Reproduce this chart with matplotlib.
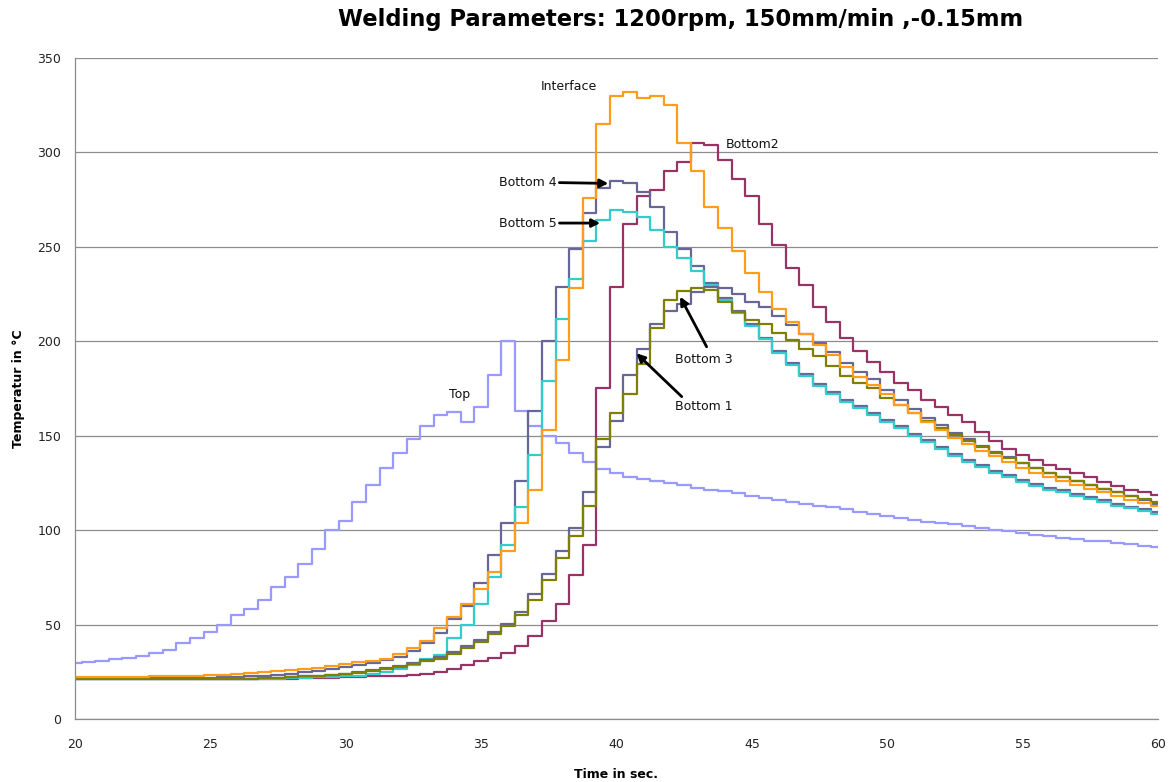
import numpy as np
import matplotlib
matplotlib.use("Agg")
import matplotlib.pyplot as plt

# thermocouple readings, sampled every 0.5 s from 20 s to 60 s
time_s = np.arange(20, 60.01, 0.5)

temp_top = [
    29.5, 30, 30.5, 31.5, 32.5, 33.5, 35, 36.5, 40, 43,
    46, 50, 55, 58, 63, 70, 75, 82, 90, 100,
    105, 115, 124, 133, 141, 148, 155, 161, 162.5, 157,
    165, 182, 200, 163, 155, 150, 146, 141, 136, 132.5,
    130, 128, 127, 126, 125, 124, 122.5, 121.5, 120.5, 119.5,
    118, 117, 116, 115, 114, 113, 112, 111, 109.5, 108.5,
    107.5, 106.5, 105.5, 104.5, 104, 103, 102, 101, 100, 99.5,
    98.5, 97.5, 97, 96, 95.5, 94.5, 94, 93, 92.5, 91.5,
    91,
]
temp_interface = [
    22, 22, 22, 22, 22, 22, 22.5, 22.5, 23, 23,
    23.5, 23.5, 24, 24.5, 25, 25.5, 26, 26.5, 27, 28,
    29, 30, 30.5, 32, 34.5, 37.5, 41.5, 48, 54, 61,
    69, 78, 89, 104, 121, 153, 190, 228, 276, 315,
    330, 332, 329, 330, 325, 305, 290, 271, 260, 248,
    236, 226, 217, 210, 204, 198, 192.5, 186.5, 181, 177,
    172, 166, 162, 157, 153, 149, 145.5, 142, 139, 136,
    133, 130.5, 128, 126, 124, 122, 120, 118, 116, 114.5,
    113,
]
temp_bottom1 = [
    21, 21, 21, 21, 21, 21, 21, 21, 21, 21,
    21, 21, 21, 21, 21.5, 21.5, 22, 22.5, 23, 23.5,
    24, 25, 26, 27, 28, 29.5, 31, 33, 35.5, 38.5,
    42, 46, 50.5, 56.5, 66, 77, 89, 101, 120, 144,
    158, 182, 196, 209, 216, 220, 226, 229, 228, 225,
    221, 218, 213.5, 208.5, 204, 199, 194.5, 188.5, 184, 180,
    174, 169, 164, 159.5, 155.5, 151.5, 148, 144.5, 141.5, 138.5,
    135.5, 133, 130.5, 128, 126, 124, 122, 120, 118, 116,
    114,
]
temp_bottom2 = [
    21, 21, 21, 21, 21, 21, 21, 21, 21, 21,
    21, 21, 21, 21, 21, 21, 21, 21.5, 21.5, 21.5,
    22, 22, 22.5, 22.5, 23, 23.5, 24, 25, 26.5, 28.5,
    30.5, 32.5, 35, 38.5, 44, 52, 61, 76, 92, 175,
    229, 262, 277, 280, 290, 295, 305, 304, 296, 286,
    277, 262, 251, 239, 230, 218, 210, 202, 195, 189,
    184, 178, 174, 169, 165, 161, 157, 152, 147, 143,
    140, 137, 134.5, 132.5, 130, 128, 125.5, 123.5, 121.5, 120,
    118.5,
]
temp_bottom3 = [
    21, 21, 21, 21, 21, 21, 21, 21, 21, 21,
    21, 21, 21, 21, 21.5, 21.5, 22, 22.5, 23, 23.5,
    24, 24.5, 25.5, 26.5, 27.5, 29, 30.5, 32, 34.5, 37.5,
    40.5, 45, 49, 55, 63, 73.5, 85, 97, 113, 148,
    162, 172, 188, 207, 222, 226.5, 228, 227, 221, 215.5,
    211.5, 209, 204.5, 200.5, 196, 192, 187, 181.5, 178, 175,
    170, 166, 162, 158, 154, 150.5, 147, 144, 141, 138,
    135.5, 133, 130.5, 128, 126, 124, 122, 120, 118, 116.5,
    115,
]
temp_bottom4 = [
    21.5, 21.5, 21.5, 21.5, 21.5, 21.5, 21.5, 21.5, 21.5, 21.5,
    21.5, 22, 22, 22.5, 23, 23.5, 24, 25, 25.5, 26.5,
    27.5, 28.5, 29.5, 31, 33, 36, 40, 45.5, 53, 60,
    72, 87, 104, 126, 163, 200, 229, 249, 268, 281,
    285, 284, 279, 271, 258, 249, 240, 231, 223, 216,
    209, 202, 195, 188.5, 182.5, 177.5, 173, 169, 165.5, 162,
    158.5, 155, 151, 147.5, 144, 140.5, 137, 134.5, 131.5, 129,
    126.5, 124.5, 122.5, 121, 119, 117.5, 116, 114, 112.5, 111,
    109.5,
]
temp_bottom5 = [
    21, 21, 21, 21, 21, 21, 21, 21, 21, 21,
    21, 21, 21, 21, 21, 21, 21.5, 21.5, 22, 22,
    22.5, 23, 24, 25, 26.5, 28.5, 31.5, 34, 43, 50,
    61, 75, 92, 112, 140, 179, 212, 233, 253, 264,
    269.5, 268.5, 266, 259, 250, 244, 237, 230, 222, 215,
    208, 201, 194, 187.5, 181.5, 176.5, 172, 168, 164.5, 161,
    157.5, 154, 150, 146.5, 143, 139.5, 136, 133.5, 130.5, 128,
    125.5, 123.5, 121.5, 120, 118, 116.5, 115, 113, 111.5, 110,
    108.5,
]

# drawing order: later series sit on top
series = [
    (temp_top, "#9999ff"),
    (temp_bottom2, "#993366"),
    (temp_bottom4, "#666699"),
    (temp_bottom5, "#33cccc"),
    (temp_bottom1, "#666699"),
    (temp_bottom3, "#808000"),
    (temp_interface, "#ff9d1a"),
]

fig = plt.figure(figsize=(11.75, 7.82), dpi=100)
ax = fig.add_axes([0.0638, 0.0806, 0.9217, 0.8452])

for values, color in series:
    ax.plot(time_s, values, drawstyle="steps-mid", color=color, lw=1.6)

ax.set_xlim(20, 60)
ax.set_ylim(0, 350)
ax.set_xticks(np.arange(20, 61, 5))
ax.set_yticks(np.arange(0, 351, 50))
ax.yaxis.grid(True, color="#8c8c8c", lw=0.9)
ax.set_axisbelow(True)
for side in ["top", "right"]:
    ax.spines[side].set_visible(False)
for side in ["left", "bottom"]:
    ax.spines[side].set_color("#8c8c8c")
    ax.spines[side].set_linewidth(0.9)
ax.tick_params(axis="both", length=0, labelsize=9, colors="#222222")
ax.tick_params(axis="x", pad=14)
ax.tick_params(axis="y", pad=10)

ax.set_xlabel("Time in sec.", fontsize=9, fontweight="bold", labelpad=12)
ax.set_ylabel("Temperatur in °C", fontsize=9, fontweight="bold", labelpad=9)

fig.suptitle("Welding Parameters: 1200rpm, 150mm/min ,-0.15mm",
             x=0.579, y=0.99, fontsize=16.3, fontweight="bold")

# curve labels
label_kw = dict(fontsize=9, color="#111111", va="center", ha="left")
ax.text(37.2, 335, "Interface", **label_kw)
ax.text(44.04, 304, "Bottom2", **label_kw)
ax.text(33.82, 171.6, "Top", **label_kw)

arrow_kw = dict(arrowstyle="-|>", color="black", lw=2, mutation_scale=12,
                shrinkA=0, shrinkB=0)
ax.annotate("Bottom 4", xy=(39.7, 283.6), xytext=(35.66, 284.3),
            arrowprops=arrow_kw, **label_kw)
ax.annotate("Bottom 5", xy=(39.4, 262.6), xytext=(35.66, 262.6),
            arrowprops=arrow_kw, **label_kw)
ax.annotate("", xy=(42.35, 223.6), xytext=(43.33, 197.1), arrowprops=arrow_kw)
ax.text(42.16, 190.6, "Bottom 3", **label_kw)
ax.annotate("", xy=(40.74, 193.6), xytext=(42.41, 170.7), arrowprops=arrow_kw)
ax.text(42.16, 165.7, "Bottom 1", **label_kw)

fig.savefig("out.png", dpi=100)
